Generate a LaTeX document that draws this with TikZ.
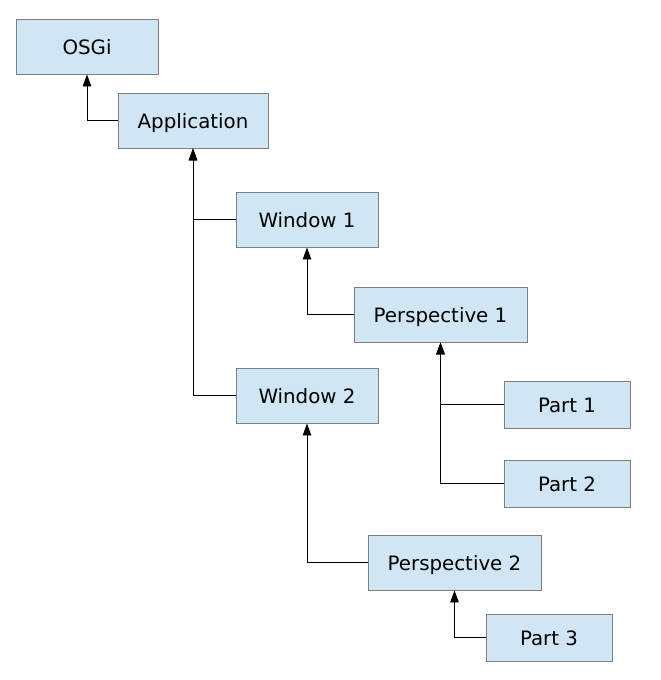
\documentclass[tikz,border=0pt]{standalone}
\usepackage{fontspec}
\setmainfont{DejaVu Sans}
\usetikzlibrary{arrows.meta}
\definecolor{boxfill}{HTML}{D0E6F4}
\definecolor{boxline}{HTML}{7F7F7F}
\begin{document}
\begin{tikzpicture}[x=1pt,y=-1pt,
  box/.style={draw=boxline,fill=boxfill,line width=0.9pt,inner sep=0pt,
    text height=17pt,text depth=2pt,
    font=\fontsize{19.8}{22}\selectfont},
  link/.style={draw=black,line width=0.9pt,-{Triangle[width=8.5pt,length=12pt]}}]
\useasboundingbox (0,0) rectangle (661,680);
\newcommand{\bx}[6]{\node[box,minimum width=#4-#2,minimum height=#5-#3] (#1) at ({(#2+#4)/2},{(#3+#5)/2}) {#6};}
\bx{osgi}{16}{19}{158}{74}{OSGi}
\bx{app}{118}{93}{268}{148}{Application}
\bx{w1}{236}{192}{378}{247}{Window 1}
\bx{p1}{354}{287}{527}{342}{Perspective 1}
\bx{w2}{236}{368}{378}{423}{Window 2}
\bx{pt1}{504}{381}{630}{428}{Part 1}
\bx{pt2}{504}{460}{630}{507}{Part 2}
\bx{p2}{368}{535}{541}{590}{Perspective 2}
\bx{pt3}{486}{614}{612}{661}{Part 3}
\draw[link] (app.west) -| (osgi.south -| 87,0);
\draw[link] (w1.west) -| (app.south);
\draw[link] (w2.west) -| (app.south);
\draw[link] (p1.west) -| (w1.south -| 307,0);
\draw[link] (pt1.west) -| (p1.south);
\draw[link] (pt2.west) -| (p1.south);
\draw[link] (p2.west) -| (w2.south -| 307,0);
\draw[link] (pt3.west) -| (p2.south);
\end{tikzpicture}
\end{document}
